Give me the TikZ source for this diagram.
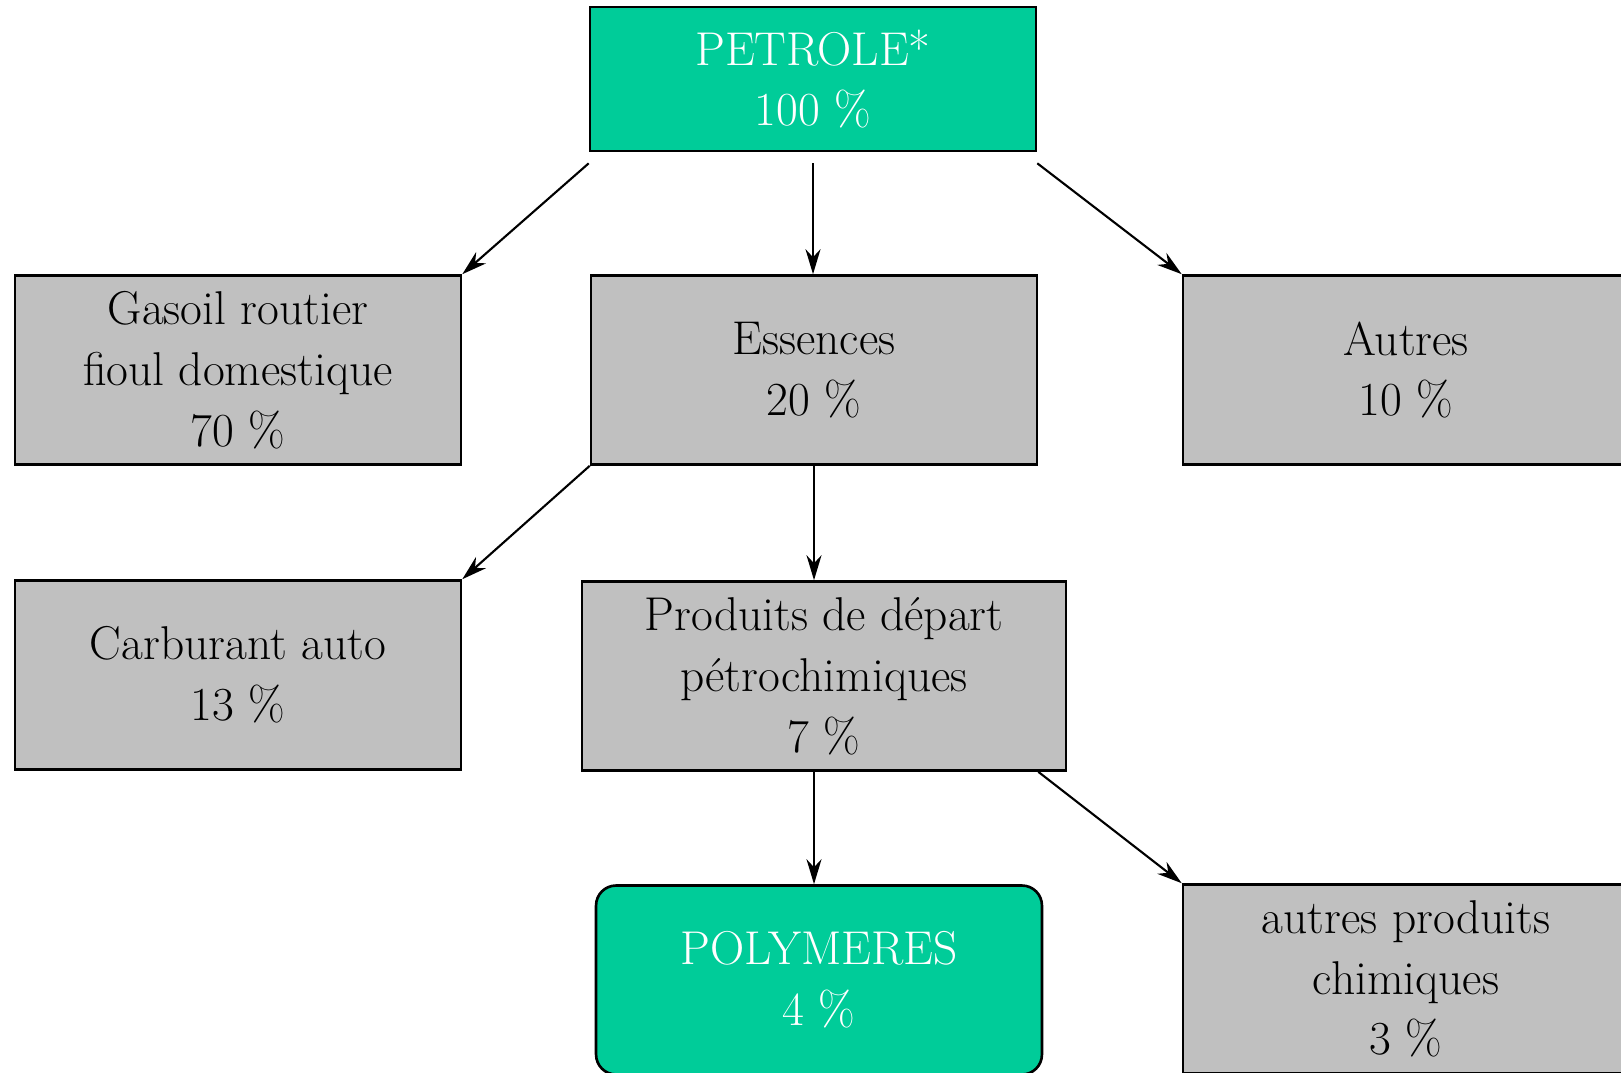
\documentclass[tikz,border=0pt]{standalone}
\usepackage{tikz}
\usetikzlibrary{arrows.meta,positioning}
\definecolor{PolyGreen}{RGB}{0,204,153}
\definecolor{CutGray}{RGB}{192,192,192}

\begin{document}
\begin{tikzpicture}[
    x=0.02cm,y=-0.02cm,
    >={Stealth[length=5mm,width=3mm,inset=1.6mm]},
    box/.style={
      draw,line width=1.5pt,minimum width=8.92cm,minimum height=3.78cm,
      align=center,inner sep=0pt,font=\fontsize{27}{34.6}\selectfont
    },
    leaf/.style={box,fill=CutGray},
    hub/.style={box,fill=PolyGreen,text=white},
    flow/.style={->,line width=1.2pt}]
    \useasboundingbox (0,0) rectangle (1621,1072);
    \node[hub,minimum height=2.88cm] (petrole) at (813,79) {PETROLE*\\100 \%};
    \node[leaf] (gasoil) at (238,370) {Gasoil routier\\fioul domestique\\70 \%};
    \node[leaf] (essences) at (814,370) {Essences\\20 \%};
    \node[leaf] (autres) at (1406,370) {Autres\\10 \%};
    \node[leaf] (carburant) at (238,675) {Carburant auto\\13 \%};
    \node[leaf,minimum width=9.68cm] (produits) at (824,676) {Produits de départ\\pétrochimiques\\7 \%};
    \node[hub,rounded corners=0.4cm] (polymeres) at (819,980) {POLYMERES\\4 \%};
    \node[leaf] (chimie) at (1406,979) {autres produits\\chimiques\\3 \%};
    % fractions
    \draw[flow] ([yshift=-0.22cm]petrole.south west) -- (gasoil.north east);
    \draw[flow] ([yshift=-0.22cm]petrole.south) -- (petrole.south |- essences.north);
    \draw[flow] ([yshift=-0.22cm]petrole.south east) -- (autres.north west);
    \draw[flow] (essences.south west) -- (carburant.north east);
    \draw[flow] (essences.south) -- (essences.south |- produits.north);
    \draw[flow] (produits.south -| essences.south) -- (essences.south |- polymeres.north);
    \draw[flow] (produits.south -| essences.south east) -- (chimie.north west);
\end{tikzpicture}
\end{document}
